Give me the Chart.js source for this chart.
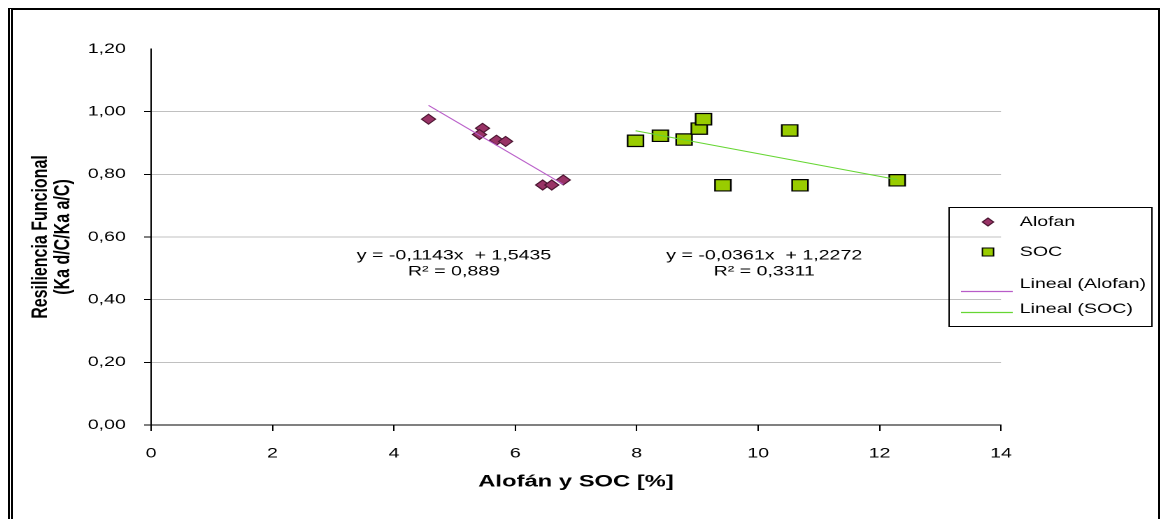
<!DOCTYPE html>
<html>
<head>
<meta charset="utf-8">
<script src="https://cdn.jsdelivr.net/npm/chart.js@4.4.1/dist/chart.umd.min.js"></script>
<style>
  html, body { margin: 0; padding: 0; background: #fff; overflow: hidden; }
  body { width: 1161px; height: 519px; position: relative; }
  /* the original picture is stretched sideways, so draw narrower and widen */
  #stretch { position: absolute; left: 0; top: 0; width: 830px; height: 519px; transform: scaleX(1.3988); transform-origin: 0 0; }
  #frame { position: absolute; left: 8px; top: 8px; width: 1152px; height: 540px; box-sizing: border-box;
           border-top: 2px solid #000; border-right: 2px solid #000; border-left: 5px double #000; pointer-events: none; }
</style>
</head>
<body>
<div id="stretch"><canvas id="chart" width="830" height="519"></canvas></div>
<div id="frame"></div>
<script>
// Alofan points
const alofanX = [4.57, 5.46, 5.41, 5.69, 5.84, 6.45, 6.60, 6.79];
const alofanY = [0.976, 0.947, 0.927, 0.909, 0.905, 0.766, 0.766, 0.782];
// SOC points
const socX = [7.98, 8.39, 8.78, 9.03, 9.10, 10.52, 9.42, 10.69, 12.29];
const socY = [0.907, 0.923, 0.911, 0.946, 0.976, 0.940, 0.765, 0.765, 0.781];
// trend line ends
const alofanTrendX = [4.57, 6.79];
const alofanTrendY = [1.020, 0.768];
const socTrendX = [7.98, 12.29];
const socTrendY = [0.939, 0.783];

const xTicks = [0, 2, 4, 6, 8, 10, 12, 14];
const yTicks = [0, 0.2, 0.4, 0.6, 0.8, 1.0, 1.2];

const equations = [
    { lines: ['y = -0,1143x  + 1,5435', 'R² = 0,889'], x: 4.99, y: 0.54 },
    { lines: ['y = -0,0361x  + 1,2272', 'R² = 0,3311'], x: 10.10, y: 0.54 }
];

const FONT = '"Liberation Sans", Arial, sans-serif';

function pairs(xs, ys) {
    return xs.map((x, i) => ({ x: x, y: ys[i] }));
}

const COLORS = {
    alofan: '#993366',
    alofanEdge: '#4a1530',
    soc: '#99cc00',
    alofanLine: '#b85cc8',
    socLine: '#66d633',
    grid: '#c0c0c0'
};

// equations + legend box
const extras = {
    id: 'extras',
    afterDraw(chart) {
        const c = chart.ctx;
        const sx = chart.scales.x, sy = chart.scales.y;
        c.save();
        c.fillStyle = '#000';
        c.font = '14px ' + FONT;
        c.textAlign = 'center';
        c.textBaseline = 'middle';
        equations.forEach(eq => {
            const px = sx.getPixelForValue(eq.x);
            const py = sy.getPixelForValue(eq.y);
            c.fillText(eq.lines[0], px, py);
            c.fillText(eq.lines[1], px, py + 16);
        });

        // legend
        c.strokeStyle = '#000';
        c.lineWidth = 1;
        c.strokeRect(678.5, 207.5, 145, 119);

        const mx = 706.3;
        // diamond
        c.beginPath();
        c.moveTo(mx, 218); c.lineTo(mx + 4, 222); c.lineTo(mx, 226); c.lineTo(mx - 4, 222); c.closePath();
        c.fillStyle = COLORS.alofan; c.fill();
        c.strokeStyle = COLORS.alofanEdge; c.stroke();
        // square
        c.fillStyle = COLORS.soc;
        c.fillRect(mx - 4, 248, 8, 8);
        c.strokeStyle = '#000';
        c.strokeRect(mx - 4, 248, 8, 8);
        // line samples
        c.lineWidth = 1.2;
        c.beginPath(); c.moveTo(687, 291.5); c.lineTo(724, 291.5);
        c.strokeStyle = COLORS.alofanLine; c.stroke();
        c.beginPath(); c.moveTo(687, 312.5); c.lineTo(724, 312.5);
        c.strokeStyle = COLORS.socLine; c.stroke();

        c.fillStyle = '#000';
        c.font = '14px ' + FONT;
        c.textAlign = 'left';
        c.fillText('Alofan', 729, 222);
        c.fillText('SOC', 729, 252);
        c.fillText('Lineal (Alofan)', 729, 284);
        c.fillText('Lineal (SOC)', 729, 309);
        c.restore();
    }
};

new Chart(document.getElementById('chart'), {
    type: 'scatter',
    data: {
        datasets: [
            { label: 'Lineal (Alofan)', data: pairs(alofanTrendX, alofanTrendY), showLine: true,
              borderColor: COLORS.alofanLine, borderWidth: 1, pointRadius: 0, order: 0 },
            { label: 'Lineal (SOC)', data: pairs(socTrendX, socTrendY), showLine: true,
              borderColor: COLORS.socLine, borderWidth: 1, pointRadius: 0, order: 0 },
            { label: 'Alofan', data: pairs(alofanX, alofanY), pointStyle: 'rectRot', pointRadius: 5,
              backgroundColor: COLORS.alofan, borderColor: COLORS.alofanEdge, borderWidth: 1, order: 1 },
            { label: 'SOC', data: pairs(socX, socY), pointStyle: 'rect', pointRadius: 8,
              backgroundColor: COLORS.soc, borderColor: '#000', borderWidth: 1.2, order: 1 }
        ]
    },
    options: {
        responsive: false,
        animation: false,
        devicePixelRatio: 2,
        layout: { padding: { left: 0, top: 49, right: 114.4, bottom: 0 } },
        plugins: {
            legend: { display: false },
            tooltip: { enabled: false }
        },
        scales: {
            x: {
                type: 'linear',
                min: xTicks[0],
                max: xTicks[xTicks.length - 1],
                afterBuildTicks: s => { s.ticks = xTicks.map(v => ({ value: v })); },
                afterFit: s => { s.height = 94; },
                ticks: { padding: 14, color: '#000', maxRotation: 0, font: { family: FONT, size: 14 } },
                grid: { drawOnChartArea: false, tickLength: 6, tickColor: '#000' },
                border: { color: '#000', width: 1 },
                title: {
                    display: true,
                    text: 'Alofán y SOC [%]',
                    color: '#000',
                    font: { family: FONT, size: 17, weight: 'bold' },
                    padding: { top: 0, bottom: 27 }
                }
            },
            y: {
                min: yTicks[0],
                max: yTicks[yTicks.length - 1],
                afterBuildTicks: s => { s.ticks = yTicks.map(v => ({ value: v })); },
                afterFit: s => { s.width = 108; },
                ticks: {
                    padding: 13,
                    color: '#000',
                    font: { family: FONT, size: 14 },
                    callback: v => v.toFixed(2).replace('.', ',')
                },
                grid: {
                    color: c => (c.tick.value > 1.19 || c.tick.value === 0) ? 'rgba(0,0,0,0)' : COLORS.grid,
                    tickColor: c => c.tick.value > 1.19 ? 'rgba(0,0,0,0)' : '#000',
                    tickLength: 5
                },
                border: { color: '#000', width: 1 },
                title: {
                    display: true,
                    text: ['Resiliencia Funcional', '(Ka d/C/Ka a/C)'],
                    color: '#000',
                    font: { family: FONT, size: 16, weight: 'bold', lineHeight: 1 },
                    padding: { top: 21, bottom: 0 }
                }
            }
        }
    },
    plugins: [extras]
});
</script>
</body>
</html>
